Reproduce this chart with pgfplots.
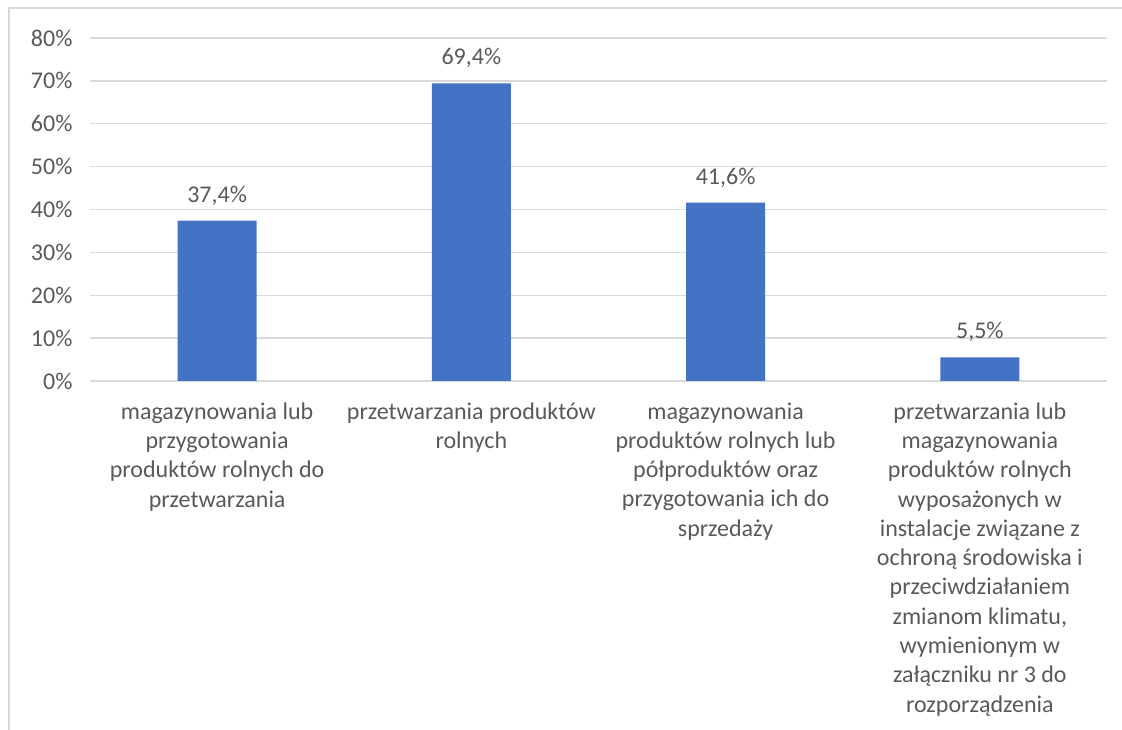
\documentclass[border=0pt]{standalone}
\usepackage{pgfplots}
\pgfplotsset{compat=1.18}
\usepackage{fontspec}
\setmainfont{Carlito}
\definecolor{barc}{HTML}{4472C4}
\definecolor{gridc}{HTML}{D9D9D9}
\definecolor{txtc}{HTML}{595959}
\begin{document}
\begin{tikzpicture}[x=1pt,y=1pt]
\useasboundingbox (0,0) rectangle (1122,730);
\draw[gridc, line width=1.5pt] (9,0) -- (9,722) -- (1122,722);
\begin{axis}[at={(90pt,349pt)}, anchor=south west, scale only axis,
  width=1017pt, height=343pt,
  xmin=-0.5, xmax=3.5, ymin=0, ymax=80,
  ytick={0,10,...,80}, xtick={0,1,2,3},
  ymajorgrids, grid style={gridc, line width=1.3pt},
  axis line style={draw=none}, major tick length=0pt,
  font=\fontsize{24}{29.3}\selectfont,
  /pgf/number format/assume math mode=true,
  yticklabel={\pgfmathprintnumber{\tick}\%},
  yticklabel style={text=txtc, anchor=east, xshift=-14pt},
  xticklabels={{magazynowania lub\\przygotowania\\produktów rolnych do\\przetwarzania},
    {przetwarzania produktów\\rolnych},
    {magazynowania\\produktów rolnych lub\\półproduktów oraz\\przygotowania ich do\\sprzedaży},
    {przetwarzania lub\\magazynowania\\produktów rolnych\\wyposażonych w\\instalacje związane z\\ochroną środowiska i\\przeciwdziałaniem\\zmianom klimatu,\\wymienionym w\\załączniku nr 3 do\\rozporządzenia}},
  xticklabel style={text=txtc, align=center, anchor=north, yshift=-18pt},
  nodes near coords={\pgfmathprintnumber[fixed,fixed zerofill,precision=1,use comma]{\pgfplotspointmeta}\%},
  nodes near coords style={text=txtc, anchor=south, yshift=12pt},
  clip=false,
]
\addplot[ybar, bar width=79pt, fill=barc, draw=none] coordinates {(0,37.4) (1,69.4) (2,41.6) (3,5.5)};
\end{axis}
\end{tikzpicture}
\end{document}
